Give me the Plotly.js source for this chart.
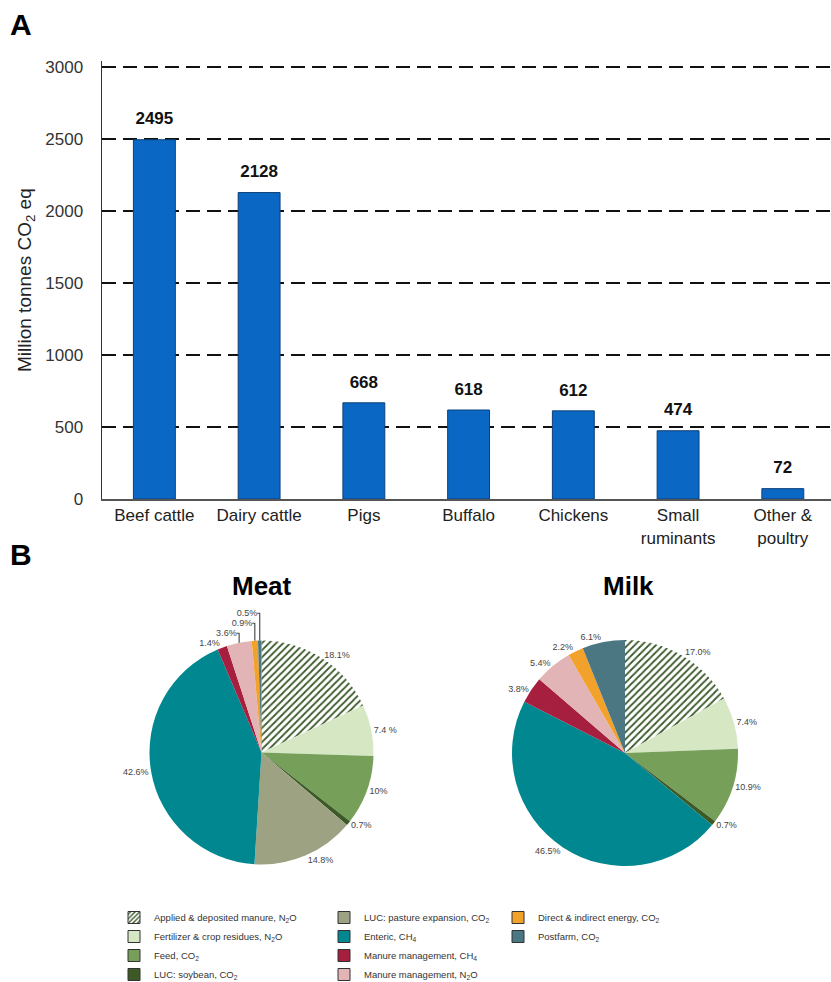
<!DOCTYPE html>
<html>
<head>
<meta charset="utf-8">
<script src="https://cdn.plot.ly/plotly-3.0.1.min.js"></script>
<style>html,body{margin:0;padding:0;background:#fff}#chart{width:831px;height:982px}</style>
</head>
<body>
<div id="chart"></div>
<script>
// ---- Panel A data ----
const species = ['Beef cattle', 'Dairy cattle', 'Pigs', 'Buffalo', 'Chickens', 'Small<br>ruminants', 'Other &<br>poultry'];
const emissions = [2495, 2128, 668, 618, 612, 474, 72];

// ---- Panel B data ----
const sources = [
  'Applied & deposited manure, N<sub>2</sub>O',
  'Fertilizer & crop residues, N<sub>2</sub>O',
  'Feed, CO<sub>2</sub>',
  'LUC: soybean, CO<sub>2</sub>',
  'LUC: pasture expansion, CO<sub>2</sub>',
  'Enteric, CH<sub>4</sub>',
  'Manure management, CH<sub>4</sub>',
  'Manure management, N<sub>2</sub>O',
  'Direct & indirect energy, CO<sub>2</sub>',
  'Postfarm, CO<sub>2</sub>'
];
const sourceColors = ['#d3e4bf', '#d6e7c4', '#76a059', '#3d5a26', '#9da382', '#00878f', '#a61f3e', '#e2b4b6', '#f2a22b', '#4b7782'];
const sourcePatterns = ['/', '', '', '', '', '', '', '', '', ''];

const meatSources = [0, 1, 2, 3, 4, 5, 6, 7, 8, 9];
const meatShares = [18.1, 7.4, 10, 0.7, 14.8, 42.6, 1.4, 3.6, 0.9, 0.5];
const meatLabels = ['18.1%', '7.4 %', '10%', '0.7%', '14.8%', '42.6%', '1.4%', '3.6%', '0.9%', '0.5%'];

const milkSources = [0, 1, 2, 3, 5, 6, 7, 8, 9];
const milkShares = [17.0, 7.4, 10.9, 0.7, 46.5, 3.8, 5.4, 2.2, 6.1];
const milkLabels = ['17.0%', '7.4%', '10.9%', '0.7%', '46.5%', '3.8%', '5.4%', '2.2%', '6.1%'];

const legendColumns = [[0, 1, 2, 3], [4, 5, 6, 7], [8, 9]];

// ---- helpers ----
const W = 831, H = 982;
const px = x => x / W;
const py = y => 1 - y / H;

const traces = [];

traces.push({
  type: 'bar',
  x: species,
  y: emissions,
  width: 0.4,
  marker: {color: '#0a68c4', line: {color: '#0d3f78', width: 1}},
  showlegend: false,
  hoverinfo: 'x+y',
  xaxis: 'x', yaxis: 'y'
});
// value labels above the bars
traces.push({
  type: 'scatter',
  mode: 'markers+text',
  x: species,
  y: emissions,
  marker: {size: 16, color: 'rgba(0,0,0,0)'},
  text: emissions.map(v => '<b>' + v + '</b>'),
  textposition: 'top center',
  textfont: {family: 'Liberation Sans, Arial, sans-serif', size: 17, color: '#111'},
  cliponaxis: false,
  showlegend: false,
  hoverinfo: 'skip',
  xaxis: 'x', yaxis: 'y'
});

function pieTrace(idx, vals, labs, xd, yd) {
  return {
    type: 'pie',
    labels: idx.map(i => sources[i]),
    values: vals,
    text: labs,
    textinfo: 'text',
    textposition: 'outside',
    textfont: {family: 'Liberation Sans, Arial, sans-serif', size: 9, color: '#444'},
    sort: false,
    direction: 'clockwise',
    rotation: 0,
    marker: {
      colors: idx.map(i => sourceColors[i]),
      pattern: {shape: idx.map(i => sourcePatterns[i]), fgcolor: '#3a5a2a', size: 5, solidity: 0.35},
      line: {color: '#ffffff', width: 0}
    },
    domain: {x: xd, y: yd},
    showlegend: false,
    hoverinfo: 'label+text'
  };
}
traces.push(pieTrace(meatSources, meatShares, meatLabels, [px(149.5), px(373.5)], [py(865), py(640)]));
traces.push(pieTrace(milkSources, milkShares, milkLabels, [px(512), px(738)], [py(866), py(640)]));

// legend entries (dummy bars on a hidden subplot)
const legendIds = ['legend', 'legend2', 'legend3'];
legendColumns.forEach((col, c) => {
  col.forEach(i => {
    traces.push({
      type: 'bar',
      x: [null], y: [null],
      name: sources[i],
      legend: legendIds[c],
      legendgroup: 'g' + i,
      marker: {
        color: sourceColors[i],
        line: {color: '#333', width: 1},
        pattern: {shape: sourcePatterns[i], fgcolor: '#3a5a2a', size: 4, solidity: 0.45}
      },
      xaxis: 'x2', yaxis: 'y2',
      hoverinfo: 'skip'
    });
  });
});

const legendFont = {family: 'Liberation Sans, Arial, sans-serif', size: 9.5, color: '#333'};
function legendAt(x) {
  return {x: px(x), y: py(903), xanchor: 'left', yanchor: 'top', orientation: 'v',
          font: legendFont, bgcolor: 'rgba(0,0,0,0)', tracegroupgap: 0, itemclick: false};
}

// y axis: 0 at pixel 499, 3000 at pixel 67; range extended slightly so the top gridline shows
const yTop = 3040;
const pxPerUnit = (499 - 67) / 3000;

const layout = {
  width: W, height: H,
  margin: {l: 0, r: 0, t: 0, b: 0, autoexpand: false},
  paper_bgcolor: '#fff', plot_bgcolor: '#fff',
  font: {family: 'Liberation Sans, Arial, sans-serif', color: '#222'},
  bargap: 0.6,
  xaxis: {
    domain: [px(102), 1],
    range: [-0.5, 6.46],
    showline: true, linecolor: '#555', linewidth: 2,
    ticks: '', showgrid: false, zeroline: false,
    tickfont: {size: 17, color: '#222'},
    fixedrange: true
  },
  yaxis: {
    domain: [py(499), py(499 - yTop * pxPerUnit)],
    range: [0, yTop],
    tickvals: [0, 500, 1000, 1500, 2000, 2500, 3000],
    showline: true, linecolor: '#333', linewidth: 1.5,
    showgrid: true, gridcolor: '#111', gridwidth: 2, griddash: '14px,7px',
    zeroline: false, ticks: '', ticklabelstandoff: 14,
    tickfont: {size: 17, color: '#333'},
    title: {text: 'Million tonnes CO<sub>2</sub> eq', font: {size: 19, color: '#222'}, standoff: 8},
    fixedrange: true
  },
  xaxis2: {domain: [0, 0.001], visible: false, anchor: 'y2'},
  yaxis2: {domain: [0, 0.001], visible: false, anchor: 'x2'},
  legend: legendAt(114),
  legend2: legendAt(324),
  legend3: legendAt(498),
  annotations: [
    {text: '<b>A</b>', x: px(8), y: py(6), xref: 'paper', yref: 'paper', xanchor: 'left', yanchor: 'top', showarrow: false, font: {size: 30, color: '#000'}},
    {text: '<b>B</b>', x: px(8), y: py(536), xref: 'paper', yref: 'paper', xanchor: 'left', yanchor: 'top', showarrow: false, font: {size: 30, color: '#000'}},
    {text: '<b>Meat</b>', x: px(262), y: py(586), xref: 'paper', yref: 'paper', xanchor: 'center', yanchor: 'middle', showarrow: false, font: {size: 26, color: '#000'}},
    {text: '<b>Milk</b>', x: px(628), y: py(586), xref: 'paper', yref: 'paper', xanchor: 'center', yanchor: 'middle', showarrow: false, font: {size: 26, color: '#000'}}
  ]
};

Plotly.newPlot('chart', traces, layout, {staticPlot: true, displayModeBar: false});
</script>
</body>
</html>
